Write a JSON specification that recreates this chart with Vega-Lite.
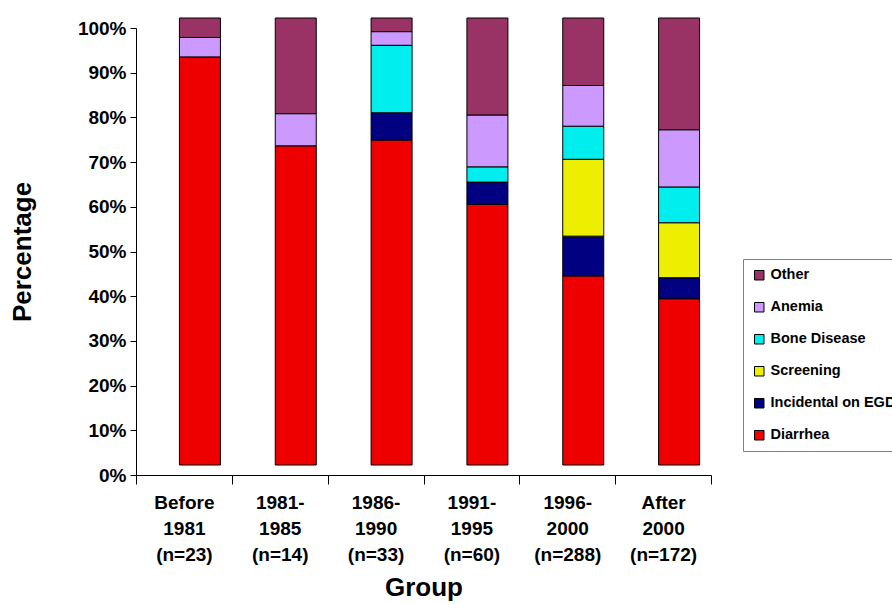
{
  "$schema": "https://vega.github.io/schema/vega-lite/v6.json",
  "autosize": "none",
  "width": 575,
  "height": 447,
  "padding": {"left": 136, "top": 28, "right": 181, "bottom": 129},
  "background": "white",
  "config": {"view": {"stroke": null}, "font": "Liberation Sans"},
  "data": {"values": [
    {"group": "Before\n1981\n(n=23)", "cause": "Diarrhea", "pct": 91.3},
    {"group": "Before\n1981\n(n=23)", "cause": "Anemia", "pct": 4.35},
    {"group": "Before\n1981\n(n=23)", "cause": "Other", "pct": 4.35},
    {"group": "1981-\n1985\n(n=14)", "cause": "Diarrhea", "pct": 71.4},
    {"group": "1981-\n1985\n(n=14)", "cause": "Anemia", "pct": 7.2},
    {"group": "1981-\n1985\n(n=14)", "cause": "Other", "pct": 21.4},
    {"group": "1986-\n1990\n(n=33)", "cause": "Diarrhea", "pct": 72.7},
    {"group": "1986-\n1990\n(n=33)", "cause": "Incidental on EGD", "pct": 6.1},
    {"group": "1986-\n1990\n(n=33)", "cause": "Bone Disease", "pct": 15.1},
    {"group": "1986-\n1990\n(n=33)", "cause": "Anemia", "pct": 3.05},
    {"group": "1986-\n1990\n(n=33)", "cause": "Other", "pct": 3.05},
    {"group": "1991-\n1995\n(n=60)", "cause": "Diarrhea", "pct": 58.3},
    {"group": "1991-\n1995\n(n=60)", "cause": "Incidental on EGD", "pct": 5.0},
    {"group": "1991-\n1995\n(n=60)", "cause": "Bone Disease", "pct": 3.4},
    {"group": "1991-\n1995\n(n=60)", "cause": "Anemia", "pct": 11.6},
    {"group": "1991-\n1995\n(n=60)", "cause": "Other", "pct": 21.7},
    {"group": "1996-\n2000\n(n=288)", "cause": "Diarrhea", "pct": 42.3},
    {"group": "1996-\n2000\n(n=288)", "cause": "Incidental on EGD", "pct": 8.9},
    {"group": "1996-\n2000\n(n=288)", "cause": "Screening", "pct": 17.2},
    {"group": "1996-\n2000\n(n=288)", "cause": "Bone Disease", "pct": 7.4},
    {"group": "1996-\n2000\n(n=288)", "cause": "Anemia", "pct": 9.1},
    {"group": "1996-\n2000\n(n=288)", "cause": "Other", "pct": 15.1},
    {"group": "After\n2000\n(n=172)", "cause": "Diarrhea", "pct": 37.2},
    {"group": "After\n2000\n(n=172)", "cause": "Incidental on EGD", "pct": 4.7},
    {"group": "After\n2000\n(n=172)", "cause": "Screening", "pct": 12.3},
    {"group": "After\n2000\n(n=172)", "cause": "Bone Disease", "pct": 8.0},
    {"group": "After\n2000\n(n=172)", "cause": "Anemia", "pct": 12.8},
    {"group": "After\n2000\n(n=172)", "cause": "Other", "pct": 25.0}
  ]},
  "transform": [
    {"calculate": "indexof(['Diarrhea','Incidental on EGD','Screening','Bone Disease','Anemia','Other'], datum.cause)", "as": "stackOrder"}
  ],
  "mark": {"type": "bar", "size": 41, "xOffset": 16, "yOffset": -10, "stroke": "#000000", "strokeWidth": 1},
  "encoding": {
    "x": {
      "field": "group", "type": "nominal", "sort": null,
      "scale": {"paddingInner": 0, "paddingOuter": 0},
      "axis": {
        "title": "Group", "titleFontSize": 26, "titleFontWeight": "bold", "titleColor": "#000", "titlePadding": 10,
        "labelAngle": 0, "labelFontSize": 19, "labelFontWeight": "bold", "labelColor": "#000",
        "labelExpr": "split(datum.label, '\\n')", "labelLineHeight": 26, "labelPadding": 9,
        "tickBand": "extent", "tickSize": 9, "tickColor": "#000", "domainColor": "#000", "domainWidth": 1
      }
    },
    "y": {
      "field": "pct", "type": "quantitative", "stack": "normalize",
      "scale": {"domain": [0, 1]},
      "axis": {
        "title": "Percentage", "titleFontSize": 26, "titleFontWeight": "bold", "titleColor": "#000", "titlePadding": 42,
        "format": "%", "values": [0, 0.1, 0.2, 0.3, 0.4, 0.5, 0.6, 0.7, 0.8, 0.9, 1.0],
        "labelFontSize": 19, "labelFontWeight": "bold", "labelColor": "#000", "labelPadding": 4,
        "grid": false, "tickSize": 6, "tickColor": "#000", "domainColor": "#000", "domainWidth": 1
      }
    },
    "color": {
      "field": "cause", "type": "nominal",
      "scale": {
        "domain": ["Other", "Anemia", "Bone Disease", "Screening", "Incidental on EGD", "Diarrhea"],
        "range": ["#993366", "#CC99FF", "#00EEEE", "#EEEE00", "#000080", "#EE0000"]
      },
      "legend": {
        "title": null, "orient": "none", "legendX": 607, "legendY": 231,
        "symbolType": "square", "symbolSize": 90, "symbolStrokeColor": "#000", "symbolStrokeWidth": 1,
        "labelFontSize": 14.5, "labelFontWeight": "bold", "labelColor": "#000", "labelOffset": 4,
        "rowPadding": 17, "padding": 9, "strokeColor": "#808080", "fillColor": "white",
        "labelLimit": 300
      }
    },
    "order": {"field": "stackOrder", "type": "quantitative"}
  }
}
